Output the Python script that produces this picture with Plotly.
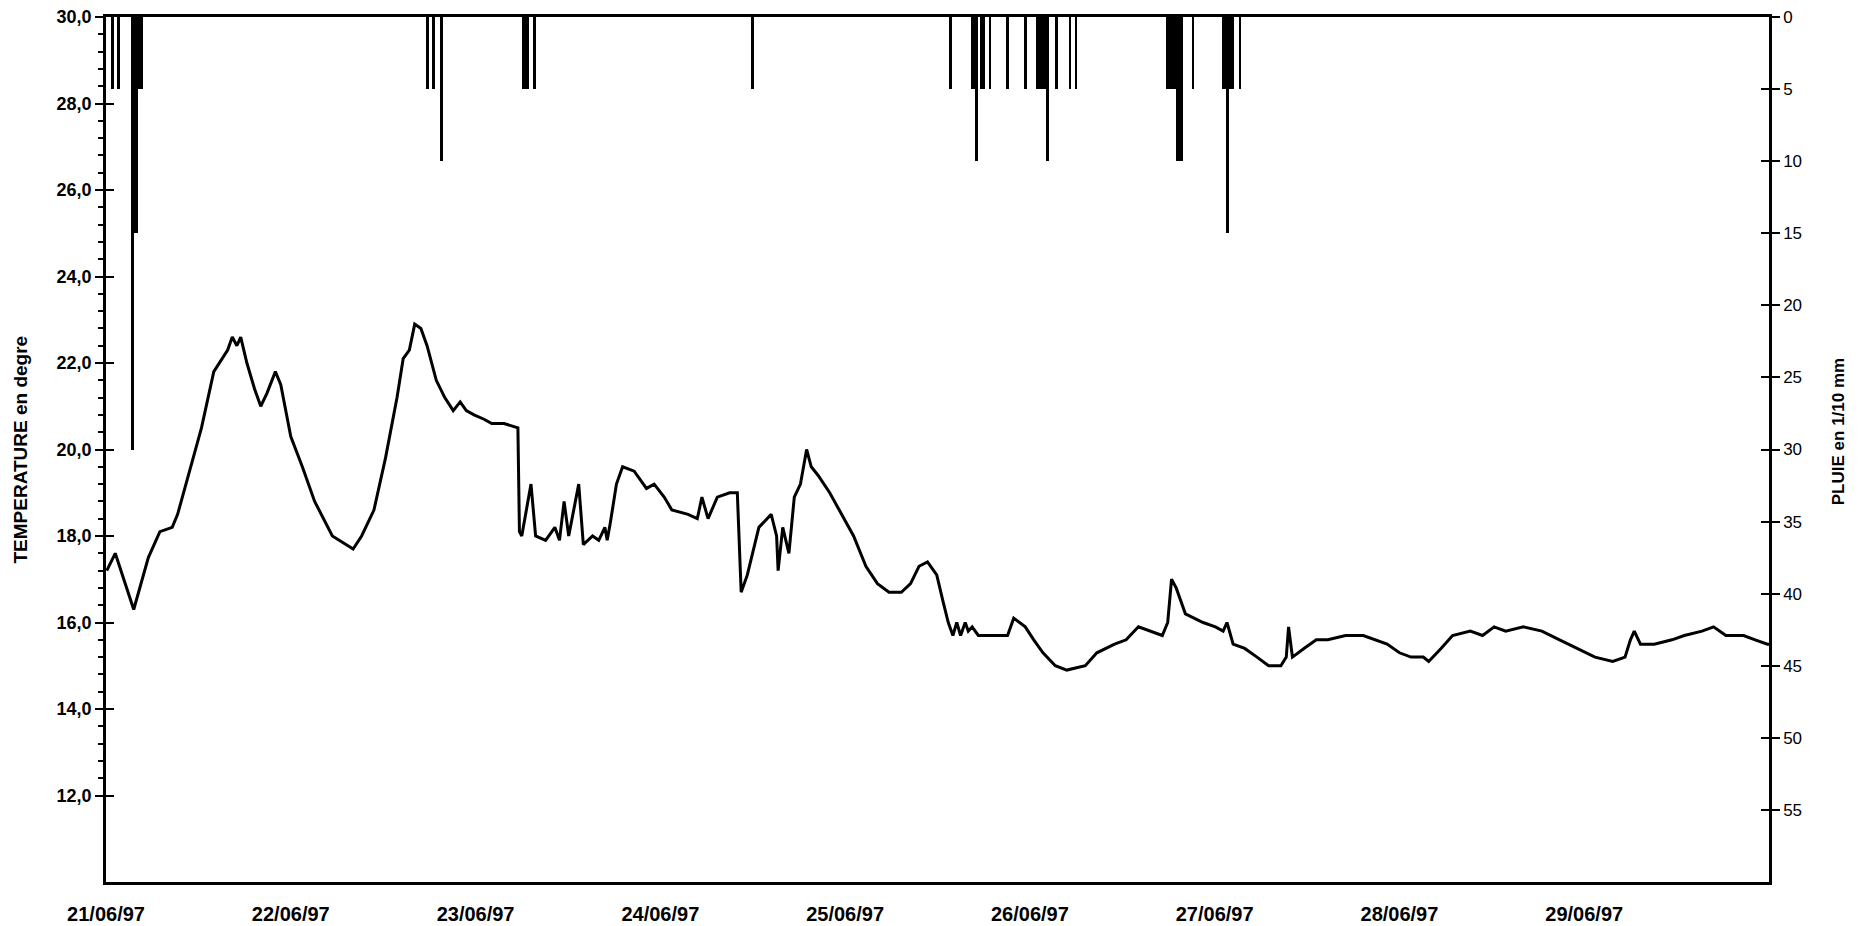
import pandas as pd
import plotly.graph_objects as go

START = pd.Timestamp("1997-06-21 00:00")

# Temperature series: hours since 21/06/97 00:00 and temperature (degrees)
temp_hours = [0.1, 1.2, 3.6, 5.5, 7.0, 8.6, 9.3, 10.9, 12.4, 14.0, 14.7, 15.8, 16.4, 17.0, 17.5,
              18.3, 19.3, 20.1, 20.9, 22.0, 22.7, 24.0, 25.5, 27.1, 29.4, 32.1, 33.2, 34.8, 36.3,
              37.8, 38.6, 39.4, 40.1, 40.9, 41.7, 42.9, 44.0, 45.1, 46.0, 46.8, 47.8, 49.1, 50.1,
              51.7, 53.5, 53.7, 54.0, 55.2, 55.8, 57.1, 58.3, 58.9, 59.5, 60.1, 61.4, 62.0, 63.2,
              64.0, 64.8, 65.1, 65.5, 66.3, 67.1, 68.6, 70.2, 71.2, 72.5, 73.5, 75.6, 76.8, 77.4,
              78.2, 79.4, 81.0, 82.0, 82.5, 83.3, 84.8, 86.4, 87.1, 87.3, 87.9, 88.7, 89.4, 90.2,
              91.0, 91.6, 92.5, 94.0, 95.6, 97.1, 98.7, 100.2, 101.7, 103.3, 104.5, 105.6, 106.7,
              107.9, 108.7, 109.4, 110.0, 110.5, 111.0, 111.6, 112.0, 112.5, 113.3, 115.6, 117.1,
              117.9, 118.7, 119.4, 120.5,
              121.7, 123.3, 124.8, 127.2, 128.7, 131.0, 132.5, 134.1, 135.6, 137.2, 137.9, 138.4,
              139.0, 140.2, 142.5, 144.1, 145.1, 145.6, 146.4, 147.9, 149.5, 151.0, 152.6, 153.3,
              153.6, 154.1, 155.6, 157.2, 158.7, 161.0, 163.3, 164.9, 166.4, 168.0, 169.5, 171.1,
              171.8, 173.4, 174.9, 177.2, 178.8, 180.3, 181.8, 184.1, 186.5, 188.8, 191.1, 193.4,
              195.7, 197.3, 198.0, 198.5, 199.3, 201.1, 203.4, 205.0, 207.3, 208.8, 210.4, 212.7,
              214.2, 215.8, 216.2]
temp_values = [17.2, 17.6, 16.3, 17.5, 18.1, 18.2, 18.5, 19.5, 20.5, 21.8, 22.0, 22.3, 22.6, 22.4, 22.6,
               22.0, 21.4, 21.0, 21.3, 21.8, 21.5, 20.3, 19.6, 18.8, 18.0, 17.7, 18.0, 18.6, 19.8,
               21.2, 22.1, 22.3, 22.9, 22.8, 22.4, 21.6, 21.2, 20.9, 21.1, 20.9, 20.8, 20.7, 20.6,
               20.6, 20.5, 18.1, 18.0, 19.2, 18.0, 17.9, 18.2, 17.9, 18.8, 18.0, 19.2, 17.8, 18.0,
               17.9, 18.2, 17.9, 18.3, 19.2, 19.6, 19.5, 19.1, 19.2, 18.9, 18.6, 18.5, 18.4, 18.9,
               18.4, 18.9, 19.0, 19.0, 16.7, 17.1, 18.2, 18.5, 18.0, 17.2, 18.2, 17.6, 18.9, 19.2,
               20.0, 19.6, 19.4, 19.0, 18.5, 18.0, 17.3, 16.9, 16.7, 16.7, 16.9, 17.3, 17.4,
               17.1, 16.5, 16.0, 15.7, 16.0, 15.7, 16.0, 15.8, 15.9, 15.7, 15.7, 15.7,
               16.1, 16.0, 15.9, 15.6,
               15.3, 15.0, 14.9, 15.0, 15.3, 15.5, 15.6, 15.9, 15.8, 15.7, 16.0, 17.0,
               16.8, 16.2, 16.0, 15.9, 15.8, 16.0, 15.5, 15.4, 15.2, 15.0, 15.0, 15.2,
               15.9, 15.2, 15.4, 15.6, 15.6, 15.7, 15.7, 15.6, 15.5, 15.3, 15.2, 15.2,
               15.1, 15.4, 15.7, 15.8, 15.7, 15.9, 15.8, 15.9, 15.8, 15.6, 15.4, 15.2,
               15.1, 15.2, 15.6, 15.8, 15.5, 15.5, 15.6, 15.7, 15.8, 15.9, 15.7, 15.7,
               15.6, 15.5, 15.5]

# Rain events: hours since start and rain (1/10 mm)
rain_hours = [0.8, 1.6, 3.4, 3.7, 4.0, 4.3, 4.6,
              41.8, 42.5, 43.6,
              54.2, 54.5, 54.8, 55.7,
              84.0,
              109.7,
              112.5, 112.8, 113.1, 113.7, 114.0, 114.8,
              117.1, 119.4,
              121.0, 121.3, 121.6, 121.9, 122.3,
              123.5, 125.2, 126.0,
              137.9, 138.2, 138.5, 138.8, 139.1, 139.4, 139.7,
              141.2,
              145.1, 145.4, 145.7, 146.0, 146.3,
              147.3]
rain_values = [5, 5, 30, 15, 15, 5, 5,
               5, 5, 10,
               5, 5, 5, 5,
               5,
               5,
               5, 5, 10, 5, 5, 5,
               5, 5,
               5, 5, 5, 5, 10,
               5, 5, 5,
               5, 5, 5, 5, 10, 10, 10,
               5,
               5, 5, 15, 5, 5,
               5]

day_labels = ["21/06/97", "22/06/97", "23/06/97", "24/06/97", "25/06/97",
              "26/06/97", "27/06/97", "28/06/97", "29/06/97"]
temp_ticks = [12, 14, 16, 18, 20, 22, 24, 26, 28, 30]
rain_ticks = [0, 5, 10, 15, 20, 25, 30, 35, 40, 45, 50, 55]

temp_x = [START + pd.Timedelta(hours=h) for h in temp_hours]
rain_x = [START + pd.Timedelta(hours=h) for h in rain_hours]
day_x = [START + pd.Timedelta(days=i) for i in range(len(day_labels))]

fig = go.Figure()
fig.add_trace(go.Bar(x=rain_x, y=rain_values, yaxis="y2", marker=dict(color="black", line=dict(width=0)),
                     width=0.35 * 3600 * 1000, showlegend=False))
fig.add_trace(go.Scatter(x=temp_x, y=temp_values, mode="lines", line=dict(color="black", width=3),
                         showlegend=False))

minor_vals = [round(12 + 0.4 * i, 1) for i in range(46)]

fig.update_layout(
    width=1860, height=926,
    margin=dict(l=106, r=91, t=17, b=44, autoexpand=False),
    paper_bgcolor="white", plot_bgcolor="white",
    separators=",.",
    bargap=0,
    xaxis=dict(type="date", range=[START, START + pd.Timedelta(days=9)],
               tickmode="array", tickvals=day_x, ticktext=day_labels,
               ticks="outside", ticklen=12, tickcolor="rgba(0,0,0,0)",
               showline=True, linecolor="black", linewidth=2.5, mirror=True,
               showgrid=False, zeroline=False, automargin=False,
               tickfont=dict(family="Liberation Sans, Arial", size=20, color="black", weight="bold")),
    yaxis=dict(range=[10, 30], tickmode="array", tickvals=temp_ticks,
               ticktext=[f"{v},0" for v in temp_ticks],
               ticks="outside", ticklen=8, tickwidth=2, tickcolor="black",
               minor=dict(tickmode="array", tickvals=minor_vals, ticks="outside", ticklen=5,
                          tickwidth=2, tickcolor="black"),
               showline=True, linecolor="black", linewidth=2.5,
               showgrid=False, zeroline=False, automargin=False,
               tickfont=dict(family="Liberation Sans, Arial", size=18, color="black", weight="bold")),
    yaxis2=dict(range=[60, 0], overlaying="y", side="right", anchor="x",
                tickmode="array", tickvals=rain_ticks,
                ticks="outside", ticklen=8, tickwidth=2, tickcolor="black",
                showline=True, linecolor="black", linewidth=2.5,
                showgrid=False, zeroline=False, automargin=False,
                tickfont=dict(family="Liberation Sans, Arial", size=17, color="black")),
    yaxis3=dict(range=[10, 30], overlaying="y", side="left", anchor="x", automargin=False,
                tickmode="array", tickvals=temp_ticks, ticks="inside", ticklen=8, tickwidth=2,
                tickcolor="black", showticklabels=False, showgrid=False, zeroline=False, showline=False),
    yaxis4=dict(range=[60, 0], overlaying="y", side="right", anchor="x", automargin=False,
                tickmode="array", tickvals=rain_ticks, ticks="inside", ticklen=8, tickwidth=2,
                tickcolor="black", showticklabels=False, showgrid=False, zeroline=False, showline=False),
    annotations=[
        dict(text="<b>TEMPERATURE en degre</b>", xref="paper", yref="paper", x=-0.0517, y=0.5,
             xanchor="center", yanchor="middle", textangle=-90, showarrow=False,
             font=dict(family="Liberation Sans, Arial", size=19, color="black")),
        dict(text="<b>PLUIE en 1/10 mm</b>", xref="paper", yref="paper", x=1.0415, y=0.52,
             xanchor="center", yanchor="middle", textangle=-90, showarrow=False,
             font=dict(family="Liberation Sans, Arial", size=17, color="black")),
    ],
)
# dummy traces so the tick-only overlay axes are rendered
fig.add_trace(go.Scatter(x=[START], y=[None], yaxis="y3", showlegend=False, hoverinfo="skip"))
fig.add_trace(go.Scatter(x=[START], y=[None], yaxis="y4", showlegend=False, hoverinfo="skip"))

fig.write_html("out.html", config={"displayModeBar": False},
               post_script="document.body.style.margin='0px'; document.body.style.overflow='hidden';")
